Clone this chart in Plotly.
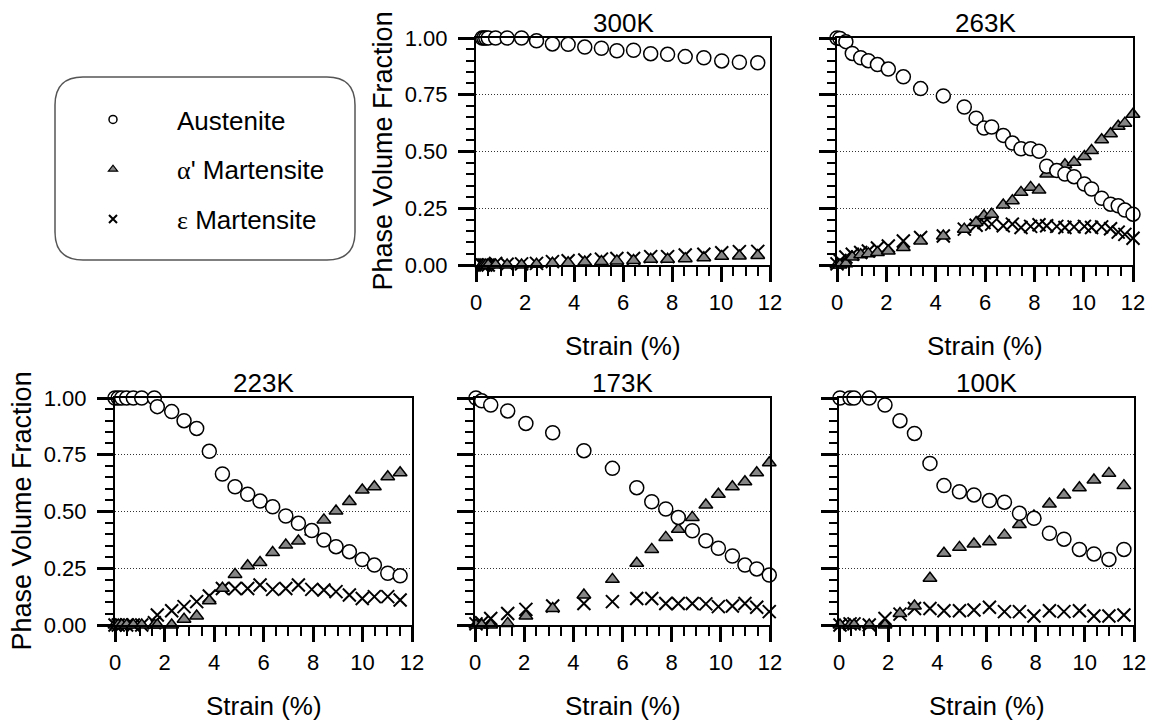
import plotly.graph_objects as go

W, H = 1152, 725

# ---------------- data ----------------
panel_titles = ["300K", "263K", "223K", "173K", "100K"]

strain_300 = [0.25, 0.32, 0.40, 0.50, 0.80, 1.27, 1.86, 2.47, 3.12, 3.76, 4.44,
              5.12, 5.75, 6.43, 7.13, 7.82, 8.54, 9.30, 10.03, 10.75, 11.50]
aus_300 = [1.0, 1.0, 1.0, 1.0, 1.0, 1.0, 1.0, 0.988, 0.974, 0.972, 0.960,
           0.955, 0.944, 0.946, 0.931, 0.928, 0.918, 0.913, 0.899, 0.893, 0.891]
alpha_300 = [0.0, 0.0, 0.0, 0.0, 0.0, 0.0, 0.0, 0.003, 0.008, 0.010, 0.013,
             0.015, 0.018, 0.020, 0.025, 0.025, 0.028, 0.032, 0.038, 0.040, 0.042]
eps_300 = [0.0, 0.0, 0.0, 0.0, 0.007, 0.003, 0.005, 0.007, 0.015, 0.019, 0.022,
           0.026, 0.029, 0.029, 0.037, 0.037, 0.044, 0.047, 0.054, 0.059, 0.060]

strain_263 = [0.0, 0.12, 0.36, 0.62, 0.96, 1.27, 1.64, 2.08, 2.69, 3.39, 4.31,
              5.16, 5.64, 5.96, 6.27, 6.74, 7.11, 7.46, 7.85, 8.19, 8.50, 8.91,
              9.24, 9.61, 10.03, 10.32, 10.73, 11.09, 11.40, 11.67, 12.0]
aus_263 = [1.0, 0.998, 0.984, 0.932, 0.913, 0.900, 0.883, 0.863, 0.829, 0.777, 0.745,
           0.696, 0.647, 0.603, 0.608, 0.571, 0.537, 0.512, 0.512, 0.501, 0.435, 0.416,
           0.401, 0.389, 0.357, 0.335, 0.294, 0.268, 0.261, 0.242, 0.224]
alpha_263 = [0.0, 0.0, 0.005, 0.035, 0.045, 0.050, 0.055, 0.062, 0.077, 0.106, 0.128,
             0.158, 0.187, 0.217, 0.224, 0.264, 0.283, 0.320, 0.342, 0.330, 0.401, 0.419,
             0.442, 0.453, 0.478, 0.504, 0.552, 0.578, 0.611, 0.625, 0.664]
eps_263 = [0.005, 0.020, 0.035, 0.047, 0.055, 0.062, 0.075, 0.084, 0.106, 0.121, 0.128,
           0.158, 0.175, 0.187, 0.180, 0.173, 0.180, 0.165, 0.170, 0.177, 0.173, 0.170,
           0.165, 0.168, 0.170, 0.165, 0.168, 0.160, 0.145, 0.135, 0.118]

strain_223 = [0.0, 0.13, 0.27, 0.47, 0.74, 1.08, 1.59, 1.71, 2.29, 2.79, 3.30, 3.81,
              4.34, 4.85, 5.36, 5.86, 6.37, 6.90, 7.41, 7.95, 8.44, 8.93, 9.47, 9.99,
              10.48, 11.02, 11.52]
aus_223 = [1.0, 1.0, 1.0, 1.0, 1.0, 1.0, 1.0, 0.962, 0.940, 0.900, 0.866, 0.765,
           0.665, 0.609, 0.576, 0.546, 0.521, 0.480, 0.448, 0.416, 0.374, 0.345, 0.323,
           0.288, 0.264, 0.228, 0.217]
alpha_223 = [0.0, 0.0, 0.0, 0.0, 0.0, 0.0, 0.0, 0.0, 0.0, 0.025, 0.040, 0.107,
             0.162, 0.223, 0.261, 0.275, 0.319, 0.352, 0.370, 0.410, 0.463, 0.502, 0.544,
             0.595, 0.609, 0.653, 0.671]
eps_223 = [0.0, 0.0, 0.0, 0.0, 0.0, 0.0, 0.010, 0.044, 0.063, 0.081, 0.103, 0.128,
           0.161, 0.161, 0.161, 0.176, 0.157, 0.161, 0.176, 0.157, 0.154, 0.147, 0.132,
           0.117, 0.125, 0.125, 0.110]

strain_173 = [0.04, 0.27, 0.64, 1.33, 2.07, 3.16, 4.43, 5.59, 6.58, 7.19, 7.76, 8.27,
              8.84, 9.39, 9.90, 10.47, 10.98, 11.46, 11.97]
aus_173 = [1.0, 0.988, 0.969, 0.943, 0.888, 0.847, 0.768, 0.690, 0.605, 0.543, 0.511,
           0.474, 0.415, 0.371, 0.338, 0.304, 0.264, 0.247, 0.220]
alpha_173 = [0.0, 0.0, 0.0, 0.007, 0.040, 0.073, 0.132, 0.201, 0.272, 0.333, 0.386,
             0.422, 0.474, 0.529, 0.576, 0.609, 0.631, 0.671, 0.715]
eps_173 = [0.005, 0.010, 0.029, 0.051, 0.069, 0.084, 0.095, 0.103, 0.117, 0.117, 0.095,
           0.095, 0.095, 0.093, 0.081, 0.084, 0.095, 0.078, 0.059]

strain_100 = [0.04, 0.45, 0.61, 1.23, 1.87, 2.48, 3.07, 3.70, 4.27, 4.90, 5.49, 6.12,
              6.73, 7.34, 7.93, 8.56, 9.15, 9.78, 10.37, 10.98, 11.59]
aus_100 = [1.0, 1.0, 1.0, 1.0, 0.969, 0.900, 0.844, 0.712, 0.614, 0.587, 0.573, 0.548,
           0.541, 0.492, 0.470, 0.404, 0.378, 0.333, 0.313, 0.289, 0.333]
alpha_100 = [0.0, 0.0, 0.0, 0.0, 0.0, 0.051, 0.084, 0.206, 0.316, 0.342, 0.357, 0.367,
             0.396, 0.443, 0.480, 0.533, 0.573, 0.605, 0.639, 0.668, 0.614]
eps_100 = [0.0, 0.005, 0.005, 0.0, 0.029, 0.048, 0.073, 0.073, 0.063, 0.063, 0.066, 0.078,
           0.059, 0.059, 0.040, 0.063, 0.059, 0.063, 0.040, 0.040, 0.044]

x_tick_step = 2
x_minor_step = 0.5
y_tick_step = 0.25
y_minor_step = 0.05

phase_names = ["Austenite",
               "<span style='font-family:Liberation Serif, Times New Roman, serif'>α</span>' Martensite",
               "<span style='font-family:Liberation Serif, Times New Roman, serif'>ε</span> Martensite"]
x_title = "Strain (%)"
y_title = "Phase Volume Fraction"

panels = [
    (strain_300, aus_300, alpha_300, eps_300),
    (strain_263, aus_263, alpha_263, eps_263),
    (strain_223, aus_223, alpha_223, eps_223),
    (strain_173, aus_173, alpha_173, eps_173),
    (strain_100, aus_100, alpha_100, eps_100),
]

# ---------------- layout geometry (pixels) ----------------
boxes = [(476, 770, 38, 265), (837, 1133, 38, 265),
         (115, 412, 398, 625), (475, 770, 398, 625), (839, 1134, 398, 625)]
show_y_labels = [True, False, True, False, False]

FONT = "Liberation Sans, Arial, sans-serif"
GRAY = "#868686"


def px(x):
    return x / W


def py(y):
    return 1 - y / H


fig = go.Figure()

for i, (strain, aus, alpha, eps) in enumerate(panels):
    ax = "" if i == 0 else str(i + 1)
    common = dict(xaxis="x" + ax, yaxis="y" + ax, mode="markers",
                  cliponaxis=False, showlegend=False, hoverinfo="skip")
    fig.add_trace(go.Scatter(x=strain, y=eps, **common,
                             marker=dict(symbol="x-thin", size=13,
                                         line=dict(color="black", width=2))))
    fig.add_trace(go.Scatter(x=strain, y=alpha, **common,
                             marker=dict(symbol="triangle-up", size=12, color=GRAY,
                                         line=dict(color="black", width=1.5))))
    fig.add_trace(go.Scatter(x=strain, y=aus, **common,
                             marker=dict(symbol="circle", size=14, color="white",
                                         line=dict(color="black", width=1.5))))

# legend entries
leg_markers = [dict(symbol="circle", size=8, color="white", line=dict(color="black", width=1.5)),
               dict(symbol="triangle-up", size=8, color=GRAY, line=dict(color="black", width=1.2)),
               dict(symbol="x-thin", size=8, line=dict(color="black", width=2))]
for k, (name, mk) in enumerate(zip(phase_names, leg_markers)):
    fig.add_trace(go.Scatter(x=[None], y=[None], mode="markers", name=name,
                             marker=mk, legendgroup="g%d" % k, showlegend=True,
                             xaxis="x", yaxis="y"))

layout = dict(
    width=W, height=H,
    margin=dict(l=0, r=0, t=0, b=0),
    paper_bgcolor="white", plot_bgcolor="white",
    template="none",
    font=dict(family=FONT, size=22, color="black"),
    showlegend=True,
    legend=dict(x=px(49), y=py(96), xanchor="left", yanchor="top",
                bgcolor="rgba(0,0,0,0)", borderwidth=0,
                font=dict(family=FONT, size=26, color="black"),
                itemwidth=118, tracegroupgap=13, itemclick=False),
)

annotations = []
for i, (x0, x1, y0, y1) in enumerate(boxes):
    ax = "" if i == 0 else str(i + 1)
    layout["xaxis" + ax] = dict(
        domain=[px(x0), px(x1)], range=[0, 12], anchor="y" + ax, type="linear",
        showline=True, linecolor="black", linewidth=2, mirror=True,
        tickmode="linear", tick0=0, dtick=x_tick_step,
        ticks="outside", ticklen=15, tickwidth=3, tickcolor="black",
        ticklabelstandoff=2,
        minor=dict(dtick=x_minor_step, ticks="outside", ticklen=9,
                   tickwidth=2, tickcolor="black"),
        showgrid=False, zeroline=False,
    )
    layout["yaxis" + ax] = dict(
        domain=[py(y1), py(y0)], range=[0, 1], anchor="x" + ax, type="linear",
        showline=True, linecolor="black", linewidth=2, mirror=True,
        tickmode="linear", tick0=0, dtick=y_tick_step, tickformat=".2f",
        ticks="outside", ticklen=16, tickwidth=3, tickcolor="black",
        showticklabels=show_y_labels[i],
        ticklabelstandoff=6,
        minor=dict(dtick=y_minor_step, ticks="outside", ticklen=8,
                   tickwidth=2, tickcolor="black"),
        showgrid=True, gridcolor="#333333", gridwidth=1, griddash="1px,2px",
        zeroline=False,
    )
    cx = (x0 + x1) / 2
    annotations.append(dict(text=panel_titles[i], x=px(cx), y=py(y0 - 15),
                            xref="paper", yref="paper", showarrow=False,
                            xanchor="center", yanchor="middle",
                            font=dict(family=FONT, size=26, color="black")))
    annotations.append(dict(text=x_title, x=px(cx), y=py(y1 + 81),
                            xref="paper", yref="paper", showarrow=False,
                            xanchor="center", yanchor="middle",
                            font=dict(family=FONT, size=26, color="black")))
    if show_y_labels[i]:
        annotations.append(dict(text=y_title, x=px(x0 - 94), y=py((y0 + y1) / 2),
                                xref="paper", yref="paper", showarrow=False,
                                textangle=-90, xanchor="center", yanchor="middle",
                                font=dict(family=FONT, size=27, color="black")))
layout["annotations"] = annotations

# rounded legend box
bx0, bx1, by0, by1, r = 55, 355, 77, 260, 28
path = (f"M {px(bx0 + r)},{py(by0)} L {px(bx1 - r)},{py(by0)} "
        f"Q {px(bx1)},{py(by0)} {px(bx1)},{py(by0 + r)} "
        f"L {px(bx1)},{py(by1 - r)} Q {px(bx1)},{py(by1)} {px(bx1 - r)},{py(by1)} "
        f"L {px(bx0 + r)},{py(by1)} Q {px(bx0)},{py(by1)} {px(bx0)},{py(by1 - r)} "
        f"L {px(bx0)},{py(by0 + r)} Q {px(bx0)},{py(by0)} {px(bx0 + r)},{py(by0)} Z")
layout["shapes"] = [dict(type="path", path=path, xref="paper", yref="paper",
                         line=dict(color="#555555", width=1.5), fillcolor="rgba(0,0,0,0)")]

fig.update_layout(**layout)
fig.write_html("out.html", config={"displayModeBar": False},
               post_script="document.body.style.margin='0px';document.body.style.padding='0px';")
